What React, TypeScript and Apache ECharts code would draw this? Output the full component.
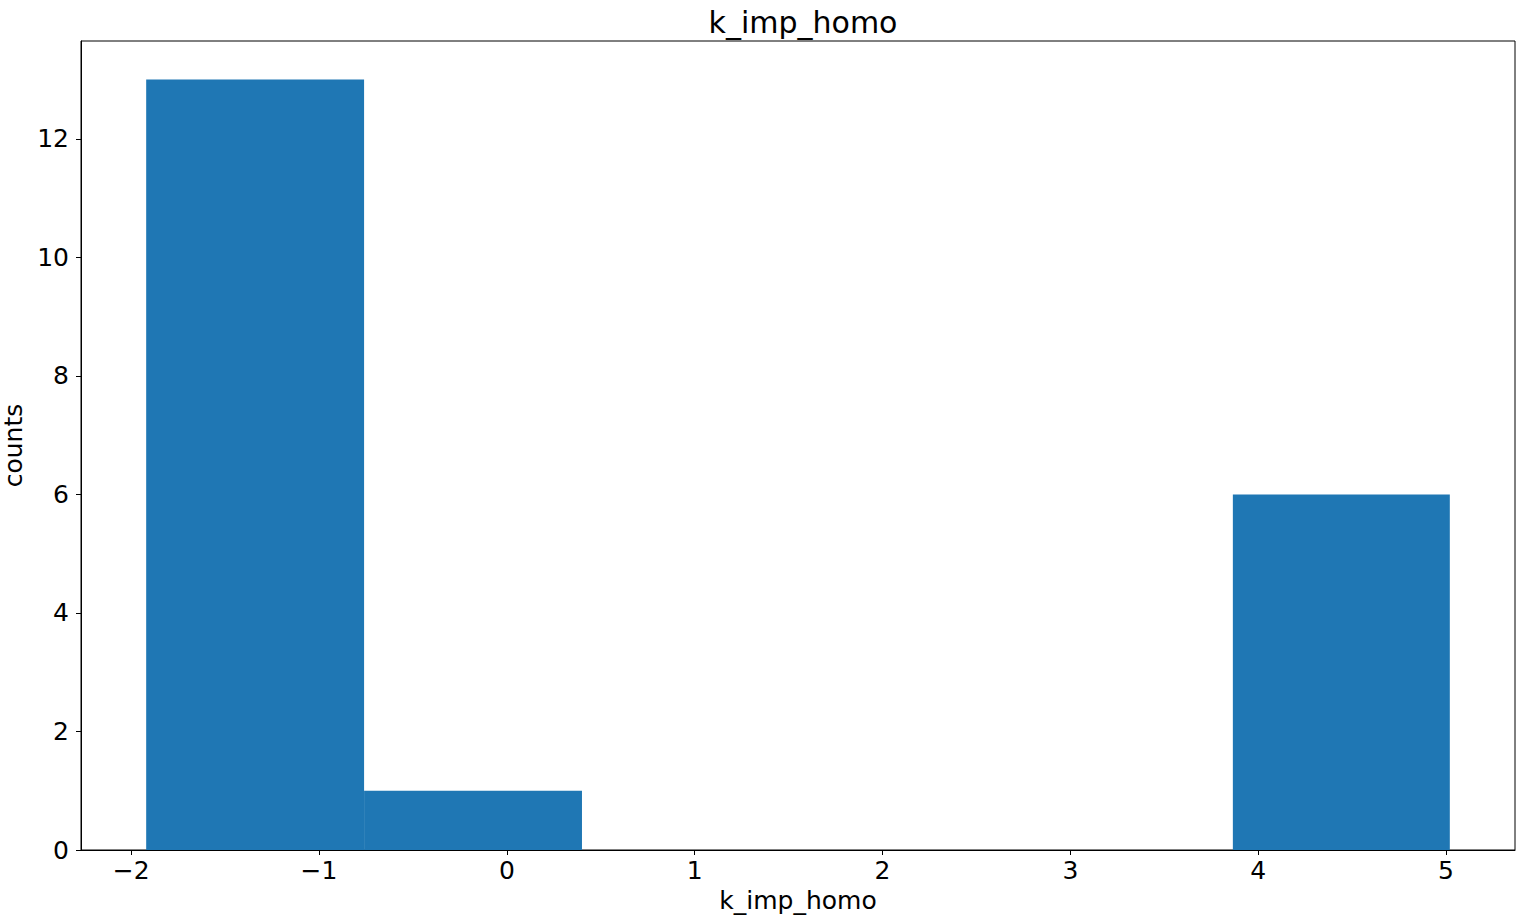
import React, { useEffect, useRef } from "react";
import * as echarts from "echarts";

const TITLE = "k_imp_homo";
const X_LABEL = "k_imp_homo";
const Y_LABEL = "counts";
const binEdges = [-1.92, -0.76, 0.4, 1.555, 2.71, 3.865, 5.02];
const counts = [13, 1, 0, 0, 0, 6];
const xTicks = [-2, -1, 0, 1, 2, 3, 4, 5];
const yTicks = [0, 2, 4, 6, 8, 10, 12];

const FONT = "DejaVu Sans";

export default function App() {
  const ref = useRef<HTMLDivElement>(null);
  useEffect(() => {
    if (!ref.current) return;
    const chart = echarts.init(ref.current, null, { renderer: "svg" });
    const data = counts.map((c, i) => [binEdges[i], binEdges[i + 1], c]);
    const lo = binEdges[0];
    const hi = binEdges[binEdges.length - 1];
    const pad = (hi - lo) * 0.05;
    const ymax = Math.max(...counts) * 1.05;
    const fmt = (v: number) => (v < 0 ? "\u2212" + Math.abs(v) : String(v));
    chart.setOption({
      animation: false,
      backgroundColor: "#ffffff",
      textStyle: { fontFamily: FONT },
      title: {
        text: TITLE,
        left: 798,
        top: 2,
        textAlign: "center",
        textStyle: { fontFamily: FONT, fontSize: 30, fontWeight: "normal", color: "#000" },
      },
      grid: {
        left: 81,
        right: 9,
        top: 41,
        bottom: 74,
        containLabel: false,
        outerBoundsMode: "none",
        show: true,
        borderColor: "#000",
        borderWidth: 1,
        backgroundColor: "transparent",
      },
      xAxis: {
        type: "value",
        min: lo - pad,
        max: hi + pad,
        name: X_LABEL,
        nameLocation: "middle",
        nameGap: 37,
        nameTextStyle: { fontFamily: FONT, fontSize: 25, color: "#000" },
        axisLine: { show: true, onZero: false, lineStyle: { color: "#000", width: 1 } },
        axisTick: { show: true, inside: false, length: 5, customValues: xTicks, lineStyle: { color: "#000" } },
        axisLabel: {
          customValues: xTicks,
          formatter: (v: number) => fmt(v),
          fontFamily: FONT,
          fontSize: 25,
          color: "#000",
          margin: 8,
        },
        splitLine: { show: false },
      },
      yAxis: {
        type: "value",
        min: 0,
        max: ymax,
        name: Y_LABEL,
        nameLocation: "middle",
        nameGap: 43,
        nameRotate: 90,
        nameTextStyle: { fontFamily: FONT, fontSize: 25, color: "#000" },
        axisLine: { show: true, onZero: false, lineStyle: { color: "#000", width: 1 } },
        axisTick: { show: true, inside: false, length: 5, customValues: yTicks, lineStyle: { color: "#000" } },
        axisLabel: {
          customValues: yTicks,
          formatter: (v: number) => fmt(v),
          fontFamily: FONT,
          fontSize: 25,
          color: "#000",
          margin: 12,
        },
        splitLine: { show: false },
      },
      series: [
        {
          type: "custom",
          data,
          encode: { x: [0, 1], y: 2 },
          renderItem: (params: any, api: any) => {
            const s = api.coord([api.value(0), 0]);
            const e = api.coord([api.value(1), api.value(2)]);
            return {
              type: "rect",
              shape: { x: s[0], y: e[1], width: e[0] - s[0], height: s[1] - e[1] },
              style: { fill: "#1f77b4" },
            };
          },
        },
      ],
    });
    return () => chart.dispose();
  }, []);
  return (
    <div
      ref={ref}
      style={{ position: "fixed", left: 0, top: 0, width: 1524, height: 924, background: "#fff" }}
    />
  );
}
